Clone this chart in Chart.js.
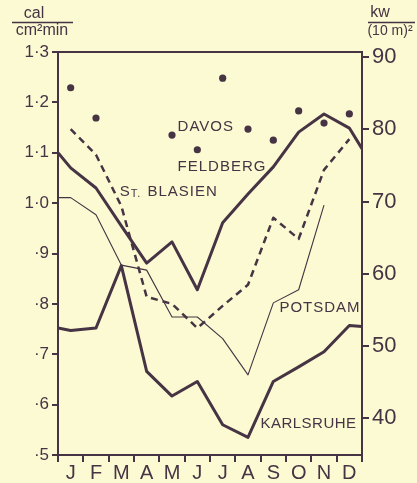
<!DOCTYPE html>
<html>
<head>
<meta charset="utf-8">
<script src="https://cdn.jsdelivr.net/npm/chart.js@4.4.1/dist/chart.umd.min.js"></script>
<style>
  html, body { margin: 0; padding: 0; background: #fbfad3; }
  #chart-wrap { width: 417px; height: 483px; }
</style>
</head>
<body>
<div id="chart-wrap"><canvas id="radiation-chart" width="417" height="483"></canvas></div>
<script>
const MONTHS = ["J", "F", "M", "A", "M", "J", "J", "A", "S", "O", "N", "D"];

// cal/cm²min, one value per month (null = no mark)
const davos = [1.229, 1.169, null, null, 1.135, 1.106, 1.248, 1.147, 1.125, 1.183, 1.159, 1.177];
const feldberg = [1.070, 1.030, 0.955, 0.881, 0.923, 0.828, 0.961, 1.018, 1.072, 1.141, 1.177, 1.149];
const stBlasien = [1.147, 1.096, 0.994, 0.814, 0.800, 0.752, 0.796, 0.838, 0.971, 0.929, 1.066, 1.127];
const potsdam = [1.011, 0.977, 0.877, 0.867, 0.774, 0.774, 0.731, 0.659, 0.802, 0.828, 0.996, null];
const karlsruhe = [0.747, 0.752, 0.876, 0.666, 0.617, 0.646, 0.560, 0.535, 0.646, 0.675, 0.705, 0.757];

// values where the curves meet the left / right frame (start and end of year)
const feldbergEdges = [1.100, 1.108];
const potsdamEdges = [1.011, null];
const karlsruheEdges = [0.752, 0.755];

const LEFT_TICKS = [0.5, 0.6, 0.7, 0.8, 0.9, 1.0, 1.1, 1.2, 1.3];
const LEFT_TICK_LABELS = ["·5", "·6", "·7", "·8", "·9", "1·0", "1·1", "1·2", "1·3"];
const RIGHT_TICKS = [40, 50, 60, 70, 80, 90];
const RIGHT_TICK_LABELS = ["40", "50", "60", "70", "80", "90"];

const KW_PER_CAL = 69.78; // 1 cal/cm²min = 69.78 kW/(10 m)²

const STATION_NAMES = ["DAVOS", "FELDBERG", "St. BLASIEN", "POTSDAM", "KARLSRUHE"];
const NAME_ANCHORS = [
  { month: 4.72, value: 1.151 },
  { month: 4.72, value: 1.072 },
  { month: 2.44, value: 1.022 },
  { month: 8.74, value: 0.792 },
  { month: 7.99, value: 0.562 },
];

const INK = "#463343";
const FONT = '"Liberation Sans", Arial, sans-serif';

function toPoints(values, edges) {
  const points = values.map((value, index) => ({ x: index + 0.5, y: value }));
  if (edges) {
    if (edges[0] !== null) points.unshift({ x: 0, y: edges[0] });
    if (edges[1] !== null) points.push({ x: 12, y: edges[1] });
  }
  return points;
}

const framePlugin = {
  id: "frame",
  afterDatasetsDraw(chart) {
    const { ctx, chartArea } = chart;
    ctx.save();
    ctx.strokeStyle = INK;
    ctx.lineWidth = 2;
    ctx.strokeRect(chartArea.left, chartArea.top, chartArea.right - chartArea.left, chartArea.bottom - chartArea.top);
    ctx.restore();
  },
};

const labelsPlugin = {
  id: "stationLabels",
  afterDraw(chart) {
    const { ctx } = chart;
    const xScale = chart.scales.x;
    const yScale = chart.scales.y;

    ctx.save();
    ctx.fillStyle = INK;
    ctx.textBaseline = "middle";
    ctx.textAlign = "left";

    STATION_NAMES.forEach((name, index) => {
      const anchor = NAME_ANCHORS[index];
      let x = xScale.getPixelForValue(anchor.month);
      const y = yScale.getPixelForValue(anchor.value);
      if ("letterSpacing" in ctx) ctx.letterSpacing = name === "KARLSRUHE" ? "0.5px" : "1px";
      if (name.startsWith("St.")) {
        ctx.font = `15px ${FONT}`;
        ctx.fillText("S", x, y);
        x += ctx.measureText("S").width;
        ctx.font = `11px ${FONT}`;
        ctx.fillText("T.", x, y + 2);
        x += ctx.measureText("T. ").width + 2;
        ctx.font = `15px ${FONT}`;
        ctx.fillText(name.slice(4), x, y);
      } else {
        ctx.font = `15px ${FONT}`;
        ctx.fillText(name, x, y);
      }
    });

    // unit captions
    if ("letterSpacing" in ctx) ctx.letterSpacing = "0px";
    ctx.textAlign = "center";
    ctx.lineWidth = 1.3;
    ctx.strokeStyle = INK;

    ctx.font = `16px ${FONT}`;
    ctx.fillText("cal", 34, 14);
    ctx.beginPath();
    ctx.moveTo(12, 22.5);
    ctx.lineTo(73, 22.5);
    ctx.stroke();
    ctx.font = `16px ${FONT}`;
    ctx.fillText("cm²min", 42, 31);

    ctx.font = `16px ${FONT}`;
    ctx.fillText("kw", 380, 13);
    ctx.beginPath();
    ctx.moveTo(368, 22.5);
    ctx.lineTo(415, 22.5);
    ctx.stroke();
    ctx.font = `14px ${FONT}`;
    ctx.fillText("(10 m)²", 390, 31);

    ctx.restore();
  },
};

const lineBase = {
  type: "line",
  borderColor: INK,
  backgroundColor: INK,
  pointRadius: 0,
  fill: false,
  tension: 0,
  borderJoinStyle: "round",
  spanGaps: false,
  xAxisID: "x",
  yAxisID: "y",
};

const datasets = [
  {
    ...lineBase,
    label: "Feldberg",
    data: toPoints(feldberg, feldbergEdges),
    borderWidth: 3,
  },
  {
    ...lineBase,
    label: "St. Blasien",
    data: toPoints(stBlasien),
    borderWidth: 2.5,
    borderDash: [7, 5],
  },
  {
    ...lineBase,
    label: "Potsdam",
    data: toPoints(potsdam, potsdamEdges),
    borderWidth: 1.1,
  },
  {
    ...lineBase,
    label: "Karlsruhe",
    data: toPoints(karlsruhe, karlsruheEdges),
    borderWidth: 3,
  },
  {
    ...lineBase,
    label: "Davos",
    data: toPoints(davos),
    showLine: false,
    pointRadius: 3.6,
    pointBackgroundColor: INK,
    pointBorderWidth: 0,
  },
];

const tickMarks = (length) => ({
  display: true,
  drawOnChartArea: false,
  drawTicks: true,
  tickLength: length,
  color: INK,
  lineWidth: 2,
});

new Chart(document.getElementById("radiation-chart").getContext("2d"), {
  type: "line",
  data: { datasets },
  options: {
    responsive: false,
    animation: false,
    events: [],
    layout: { padding: { top: 52, right: 0, bottom: 0, left: 0 } },
    plugins: { legend: { display: false }, tooltip: { enabled: false } },
    scales: {
      x: {
        type: "linear",
        position: "bottom",
        min: 0,
        max: 12,
        border: { display: false },
        grid: tickMarks(7),
        ticks: { display: false },
        afterBuildTicks: (scale) => {
          scale.ticks = MONTHS.map((_, index) => ({ value: index })).concat([{ value: 12 }]);
        },
        afterFit: (scale) => { scale.height = 7; },
      },
      months: {
        type: "category",
        position: "bottom",
        labels: MONTHS,
        offset: true,
        border: { display: false },
        grid: { display: false },
        ticks: {
          color: INK,
          padding: -9,
          maxRotation: 0,
          autoSkip: false,
          font: { family: FONT, size: 20 },
        },
        afterFit: (scale) => { scale.height = 21; },
      },
      y: {
        type: "linear",
        position: "left",
        min: 0.5,
        max: 1.3,
        border: { display: false },
        grid: tickMarks(6),
        afterBuildTicks: (scale) => {
          scale.ticks = LEFT_TICKS.map((value) => ({ value }));
        },
        ticks: {
          color: INK,
          padding: 3,
          font: { family: FONT, size: 17 },
          callback: (value, index) => LEFT_TICK_LABELS[index],
        },
        afterFit: (scale) => { scale.width = 58; },
      },
      y2: {
        type: "linear",
        position: "right",
        min: 0.5 * KW_PER_CAL,
        max: 1.3 * KW_PER_CAL,
        border: { display: false },
        grid: tickMarks(7),
        afterBuildTicks: (scale) => {
          scale.ticks = RIGHT_TICKS.map((value) => ({ value }));
        },
        ticks: {
          color: INK,
          padding: 3,
          font: { family: FONT, size: 22 },
          callback: (value, index) => RIGHT_TICK_LABELS[index],
        },
        afterFit: (scale) => { scale.width = 55; },
      },
    },
  },
  plugins: [framePlugin, labelsPlugin],
});
</script>
</body>
</html>
